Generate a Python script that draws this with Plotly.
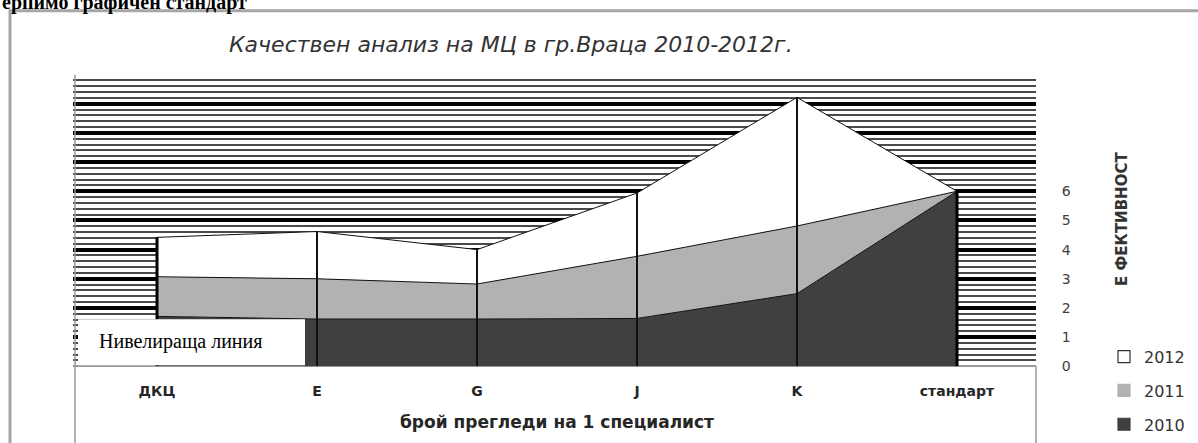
import plotly.graph_objects as go

# ---- data ----
categories = ["ДКЦ", "E", "G", "J", "K", "стандарт"]
years = ["2010", "2011", "2012"]
v2010 = [1.71, 1.62, 1.62, 1.64, 2.49, 6.0]
v2011 = [1.36, 1.38, 1.20, 2.13, 2.32, 0.0]
v2012 = [1.35, 1.62, 1.18, 2.17, 4.41, 0.0]
y_ticks = [0, 1, 2, 3, 4, 5, 6]

title_text = "Качествен анализ на МЦ в гр.Враца 2010-2012г."
x_title = "брой прегледи на 1 специалист"
y_title = "Е ФЕКТИВНОСТ"
note_text = "Нивелираща линия"
top_text = "ерпимо графичен стандарт"

W, H = 1198, 443

def px(x):
    return x / W
def py(y):
    return 1 - y / H

fill_colors = {"2010": "#404040", "2011": "#b2b2b2", "2012": "#ffffff"}
series = {"2010": v2010, "2011": v2011, "2012": v2012}

fig = go.Figure()

# stacked areas
for yr in years:
    fig.add_trace(go.Scatter(
        x=categories, y=series[yr], name=yr, stackgroup="one",
        mode="lines", line=dict(color="#111111", width=1),
        fillcolor=fill_colors[yr], showlegend=False, hoverinfo="skip",
    ))

# vertical edges at each category (from stacked totals)
totals = [a + b + c for a, b, c in zip(v2010, v2011, v2012)]
xs_in, ys_in, xs_e, ys_e = [], [], [], []
for i, (c, t) in enumerate(zip(categories, totals)):
    if i in (0, len(categories) - 1):
        xs_e += [c, c, None]; ys_e += [0, t, None]
    else:
        xs_in += [c, c, None]; ys_in += [0, t, None]
fig.add_trace(go.Scatter(x=xs_in, y=ys_in, mode="lines", yaxis="y2",
                         line=dict(color="#111111", width=2),
                         showlegend=False, hoverinfo="skip"))
fig.add_trace(go.Scatter(x=xs_e, y=ys_e, mode="lines", yaxis="y2",
                         line=dict(color="#000000", width=3),
                         showlegend=False, hoverinfo="skip"))

# legend entries
for yr in ["2012", "2011", "2010"]:
    fig.add_trace(go.Scatter(
        x=[None], y=[None], mode="markers", name=yr, legendgroup=yr,
        marker=dict(symbol="square", size=12, color=fill_colors[yr],
                    line=dict(color="#333333" if yr == "2012" else fill_colors[yr], width=1.2)),
    ))

fig.update_layout(
    width=W, height=H,
    margin=dict(l=0, r=0, t=0, b=0),
    paper_bgcolor="white", plot_bgcolor="white",
    font=dict(family="DejaVu Sans", color="#333333"),
    xaxis=dict(
        domain=[px(73), px(1036)], type="category",
        range=[(73 - 157) / 160, (1036 - 157) / 160],
        showgrid=False, showline=False, zeroline=False,
        ticks="outside", ticklen=12, tickcolor="rgba(0,0,0,0)",
        tickfont=dict(size=14, weight="bold", color="#262626"),
    ),
    yaxis=dict(
        domain=[(H - 373) / H, (H - 76) / H], range=[0, 10],
        tickmode="linear", tick0=0, dtick=1, showticklabels=False, ticks="",
        showgrid=True, gridcolor="#000000", gridwidth=3.5,
        zeroline=True, zerolinecolor="#9a9a9a", zerolinewidth=2,
        minor=dict(tick0=0, dtick=0.2, showgrid=True, gridcolor="#4a4a4a", gridwidth=1.5),
    ),
    yaxis2=dict(
        overlaying="y", side="right", anchor="x", range=[0, 10],
        tickmode="array", tickvals=y_ticks, ticktext=[str(v) for v in y_ticks],
        showgrid=False, zeroline=False, showline=False,
        ticks="outside", ticklen=22, tickcolor="rgba(0,0,0,0)",
        tickfont=dict(size=14, color="#404040"),
    ),
    showlegend=True,
    legend=dict(
        x=px(1104), y=py(346), xanchor="left", yanchor="top",
        traceorder="grouped", tracegroupgap=10,
        font=dict(size=16, color="#333333"), bgcolor="rgba(0,0,0,0)",
        itemwidth=30,
    ),
    shapes=[
        # outer chart frame
        dict(type="rect", xref="paper", yref="paper", x0=px(10), x1=1.2,
             y0=-0.2, y1=py(11), line=dict(color="#a6a6a6", width=3), layer="above"),
        # plot area borders
        dict(type="line", xref="paper", yref="paper", x0=px(75), x1=px(75),
             y0=py(76), y1=-0.1, line=dict(color="#9a9a9a", width=1.5), layer="above"),
        dict(type="line", xref="paper", yref="paper", x0=px(1036), x1=px(1036),
             y0=py(373), y1=-0.1, line=dict(color="#9a9a9a", width=1.5), layer="above"),
        # white note box
        dict(type="rect", xref="paper", yref="paper", x0=px(78), x1=px(305),
             y0=py(372), y1=py(325), fillcolor="white", line=dict(width=0), layer="above"),
    ],
    annotations=[
        dict(text=title_text, xref="paper", yref="paper", x=px(511), y=py(45),
             xanchor="center", yanchor="middle", showarrow=False,
             font=dict(size=22, style="italic", color="#333333")),
        dict(text=x_title, xref="paper", yref="paper", x=px(557), y=py(430),
             xanchor="center", yanchor="middle", showarrow=False,
             font=dict(size=17, weight="bold", color="#262626")),
        dict(text=y_title, xref="paper", yref="paper", x=px(1122), y=py(223),
             xanchor="center", yanchor="middle", showarrow=False, textangle=-90,
             font=dict(size=15, weight="bold", color="#333333")),
        dict(text=note_text, xref="paper", yref="paper", x=px(97), y=py(348),
             xanchor="left", yanchor="middle", showarrow=False,
             font=dict(family="Liberation Serif", size=20, color="#000000")),
        dict(text="<b>" + top_text + "</b>", xref="paper", yref="paper", x=0, y=py(16),
             xanchor="left", yanchor="bottom", showarrow=False,
             font=dict(family="Liberation Serif", size=20, color="#000000")),
    ],
)

post = (
    "document.documentElement.style.margin='0';"
    "document.documentElement.style.overflow='hidden';"
    "document.body.style.margin='0';"
    "document.body.style.overflow='hidden';"
    "var d=document.querySelector('.plotly-graph-div');"
    "if(d){d.style.position='fixed';d.style.left='0px';d.style.top='0px';}"
)
fig.write_html("out.html", config={"displayModeBar": False}, post_script=post)
